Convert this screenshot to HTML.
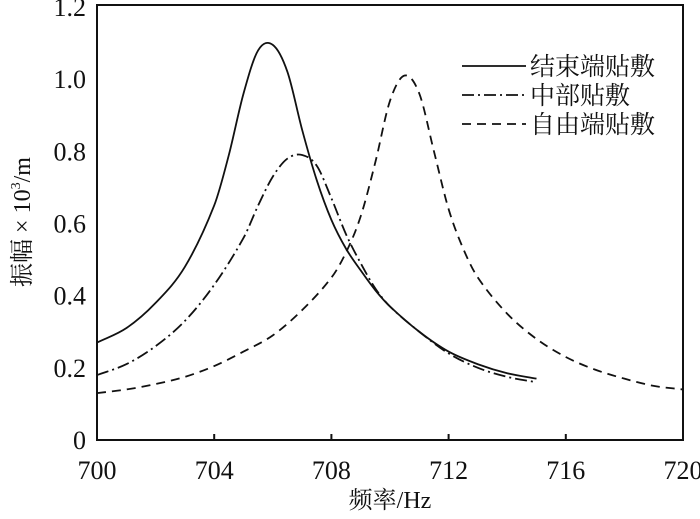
<!DOCTYPE html>
<html><head><meta charset="utf-8"><style>
body{margin:0;background:#fff}
svg text{font-family:"Liberation Serif","Noto Serif CJK SC",serif;fill:#111}
</style></head><body>
<svg width="700" height="514" viewBox="0 0 700 514">
<g id="chart"></g>
</svg>
<script>
const xTicks=[700,704,708,712,716,720];
const yTicks=[0,0.2,0.4,0.6,0.8,1.0,1.2];
const yTickLabels=["0","0.2","0.4","0.6","0.8","1.0","1.2"];
const freqEnd=[700,701,702,703,704,704.5,705,705.5,706,706.5,707,707.5,708,708.5,709,709.5,710,711,712,713,714,715];
const ampEnd=[0.27,0.31,0.38,0.48,0.65,0.79,0.96,1.08,1.095,1.02,0.86,0.72,0.61,0.53,0.47,0.415,0.37,0.30,0.245,0.21,0.185,0.17];
const freqMid=[700,701,702,703,704,705,705.5,706,706.5,707,707.5,708,708.5,709,709.5,710,711,712,713,714,715];
const ampMid=[0.18,0.21,0.26,0.33,0.43,0.56,0.65,0.73,0.78,0.79,0.76,0.67,0.57,0.49,0.42,0.37,0.30,0.24,0.20,0.175,0.16];
const freqFree=[700,701,702,703,704,705,706,707,708,708.5,709,709.5,710,710.5,711,711.5,712,712.5,713,714,715,716,717,718,719,720];
const ampFree=[0.13,0.14,0.155,0.175,0.205,0.245,0.29,0.36,0.45,0.52,0.62,0.77,0.94,1.01,0.96,0.80,0.64,0.53,0.45,0.35,0.28,0.23,0.195,0.17,0.15,0.14];
const seriesNames=["结束端贴敷","中部贴敷","自由端贴敷"];

const L=97,R=683,T=7,B=440;
const xs=v=>L+(v-700)/20*(R-L);
const ys=v=>B-v/1.2*(B-T);
const NS="http://www.w3.org/2000/svg";
const g=document.getElementById('chart');
function mk(tag,attrs){const e=document.createElementNS(NS,tag);for(const k in attrs)e.setAttribute(k,attrs[k]);g.appendChild(e);return e;}

const frame=mk('rect',{x:L,y:5,width:R-L,height:B-5,fill:'none',stroke:'#111','stroke-width':2});



xTicks.forEach(t=>{
  const tk=mk('line',{x1:xs(t),x2:xs(t),y1:B,y2:B-6,stroke:'#111','stroke-width':2});
  
  
  const lb=mk('text',{x:xs(t),y:479,'text-anchor':'middle','font-size':26});
  lb.textContent=t;
  
  
});
yTicks.forEach((t,i)=>{
  const lb=mk('text',{x:86,y:ys(t)+9,'text-anchor':'end','font-size':26});
  lb.textContent=yTickLabels[i];
  
  
});

function path(fx,fy){
  const p=fx.map((f,i)=>[xs(f),ys(fy[i])]);
  let d='M'+p[0][0]+','+p[0][1];
  for(let i=0;i<p.length-1;i++){
    const p0=p[Math.max(0,i-1)],p1=p[i],p2=p[i+1],p3=p[Math.min(p.length-1,i+2)];
    const h=p2[0]-p1[0];
    const s1=(p2[1]-p0[1])/((p2[0]-p0[0])||1), s2=(p3[1]-p1[1])/((p3[0]-p1[0])||1);
    const c1=[p1[0]+h/3,p1[1]+s1*h/3];
    const c2=[p2[0]-h/3,p2[1]-s2*h/3];
    d+=' C'+c1+' '+c2+' '+p2;
  }
  return d;
}
const dashes=['none','12,4,2,4','9,6'];
const data=[[freqEnd,ampEnd],[freqMid,ampMid],[freqFree,ampFree]];
const names=['series-end-attached','series-middle-attached','series-free-end-attached'];
data.forEach((s,i)=>{
  const pth=mk('path',{d:path(s[0],s[1]),fill:'none',stroke:'#111','stroke-width':1.8,'stroke-dasharray':dashes[i]});
  
  
});
const legY=[66,95,124];
seriesNames.forEach((n,i)=>{
  const ln=mk('line',{x1:462,x2:526,y1:legY[i],y2:legY[i],stroke:'#111','stroke-width':1.8,'stroke-dasharray':dashes[i]});
  
  
  const tx=mk('text',{x:530,y:legY[i]+9,'font-size':25});
  tx.textContent=n;
  
  
});
const xt=mk('text',{x:390,y:508,'text-anchor':'middle','font-size':24});
xt.textContent='频率/Hz';


const yt=mk('text',{x:0,y:0,'text-anchor':'middle','font-size':24,transform:'translate(30,222) rotate(-90)'});
yt.innerHTML='振幅 × 10<tspan font-size="14" dy="-10">3</tspan><tspan dy="10">/m</tspan>';


</script>
</body></html>
